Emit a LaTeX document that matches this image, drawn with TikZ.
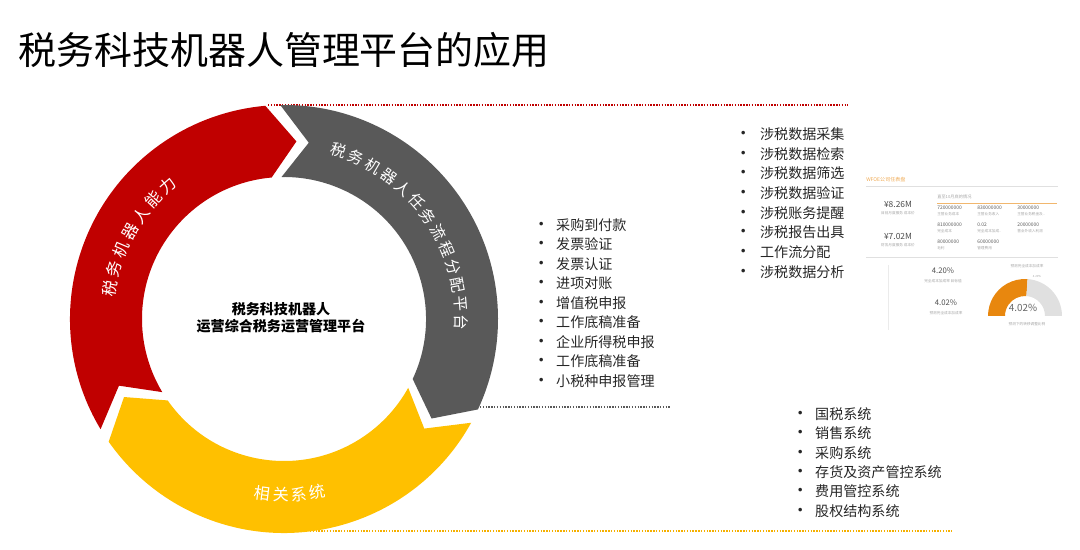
\documentclass[tikz,border=0pt]{standalone}
\usepackage{fontspec}
\setmainfont{Noto Sans CJK SC}
\usepackage{xcolor}
\usetikzlibrary{positioning}

\definecolor{ringred}{HTML}{C00000}
\definecolor{ringgray}{HTML}{595959}
\definecolor{ringyellow}{HTML}{FFC000}
\definecolor{dotyellow}{HTML}{F5B000}
\definecolor{dashorange}{HTML}{E8870E}
\definecolor{listtext}{HTML}{262626}

\newcommand{\fsz}[1]{\fontsize{#1}{#1}\selectfont}
\newcommand{\ringseg}[2]{%
  \fill[#1] ({#2}:214) arc[start angle={#2}, end angle={#2-116}, radius=214]
    -- ({#2-125}:178) -- ({#2-116}:142)
    arc[start angle={#2-116}, end angle={#2}, radius=142]
    -- ({#2-9}:178) -- cycle;}

\begin{document}
\begin{tikzpicture}[x=0.025cm, y=0.025cm,
    ringlbl/.style={text=white, font=\fsz{11.5}, inner sep=0pt},
    hub/.style={align=center, font=\bfseries\fontsize{10}{12}\selectfont, inner sep=0pt},
    item/.style={anchor=west, inner sep=0pt, text=listtext, font=\fsz{10},
      execute at begin node={\makebox[#1][l]{\makebox[0pt][c]{\fsz{12}•}}}},
    item/.default=10.6pt,
    dotline/.style={line width=1.3pt, dash pattern=on 1pt off 1pt},
    dbnum/.style={anchor=west, inner sep=0pt, text=black!65, font=\fsz{3.5}},
    dblbl/.style={anchor=west, inner sep=0pt, text=black!35, font=\fsz{2.6}},
    dbbig/.style={inner sep=0pt, text=black!70, font=\fsz{6}},
    dbcap/.style={inner sep=0pt, text=black!35, font=\fsz{2.6}},
    dbrule/.style={black!12, line width=0.4pt}
  ]
    \useasboundingbox (0,0) rectangle (1080,550);

    \node[anchor=west, font=\fsz{27}, inner sep=0pt] (title) at (18,500) {税务科技机器人管理平台的应用};

    \coordinate (redL) at (268,445);
    \coordinate (redR) at (848,445);
    \coordinate (grayL) at (480,143);
    \coordinate (grayR) at (670,143);
    \coordinate (ylwL) at (310,19);
    \coordinate (ylwR) at (952,19);
    \draw[dotline, ringred] (redL) -- (redR);
    \draw[dotline, ringgray] (grayL) -- (grayR);
    \draw[dotline, dotyellow] (ylwL) -- (ylwR);

    \begin{scope}[shift={(284,231)}]
      \ringseg{ringred}{211}
      \ringseg{ringgray}{91}
      \ringseg{ringyellow}{331}
      \node[hub] (hub) at (-3,1) {税务科技机器人\\运营综合税务运营管理平台};
      \foreach \ch [count=\i] in {税,务,机,器,人,能,力}{
        \pgfmathsetmacro{\ang}{170-6.5*(\i-1)}
        \node[ringlbl, rotate=\ang-90] (cap\i) at (\ang:177) {\ch};
      }
      \foreach \ch [count=\i] in {税,务,机,器,人,任,务,流,程,分,配,平,台}{
        \pgfmathsetmacro{\ang}{72-6.1*(\i-1)}
        \node[ringlbl, font=\fsz{11}, rotate=\ang-90] (task\i) at (\ang:177) {\ch};
      }
      \foreach \ch [count=\i] in {相,关,系,统}{
        \pgfmathsetmacro{\ang}{-97+6*(\i-1)}
        \node[ringlbl, rotate=\ang+90] (sys\i) at (\ang:176) {\ch};
      }
    \end{scope}

    \foreach \t [count=\i] in {采购到付款,发票验证,发票认证,进项对账,增值税申报,工作底稿准备,企业所得税申报,工作底稿准备,小税种申报管理}
      \node[item] (flow\i) at (541,{325-19.5*(\i-1)}) {\t};

    \foreach \t [count=\i] in {涉税数据采集,涉税数据检索,涉税数据筛选,涉税数据验证,涉税账务提醒,涉税报告出具,工作流分配,涉税数据分析}
      \node[item=12pt] (data\i) at (743,{416-19.7*(\i-1)}) {\t};

    \foreach \t [count=\i] in {国税系统,销售系统,采购系统,存货及资产管控系统,费用管控系统,股权结构系统}
      \node[item] (erp\i) at (800,{136-19.4*(\i-1)}) {\t};

    \node[anchor=west, inner sep=0pt, text=dashorange!70, font=\fsz{3.6}] (dbtitle) at (866,370) {WFOE公司任表盘};
    \draw[dbrule] (866,364) -- (1058,364);
    \node[dbbig] (cost1) at (898,346) {¥8.26M};
    \node[dbcap] (cost1l) at (898,337) {目前月度服务\ 成本价};
    \node[dbbig] (cost2) at (898,314) {¥7.02M};
    \node[dbcap] (cost2l) at (898,305) {财务月度服务\ 成本价};
    \node[dblbl, font=\fsz{3}] (gridhead) at (937,353) {直至10月底的情况};
    \draw[dashorange!60, line width=0.4pt] (937,347) -- (1057,347);
    \foreach \v/\l/\x/\y [count=\i] in {720000000/主营业务成本/937/342, 830000000/主营业务收入/977/342, 30000000/主营业务税金及../1017/342,
        810000000/完全成本/937/325, 0.02/完全成本加成../977/325, 20000000/营业外收入利润/1017/325,
        80000000/毛利/937/308, 60000000/管理费用/977/308}{
      \node[dbnum] (num\i) at (\x,\y) {\v};
      \node[dblbl] (numl\i) at (\x,{\y-6}) {\l};
    }
    \draw[dbrule] (866,293) -- (1058,293);
    \draw[black!8, line width=0.4pt] (888,285) -- (888,220);
    \node[dbbig, font=\fsz{5.5}] (rate1) at (943,279) {4.20\%};
    \node[dbcap] (rate1l) at (943,269) {完全成本加成率\ 目标值};
    \node[dbbig, font=\fsz{5.5}] (rate2) at (946,247) {4.02\%};
    \node[dbcap] (rate2l) at (946,237) {预测完全成本加成率};

    \begin{scope}[shift={(1025,234)}]
      \fill[dashorange] (180:37) arc[start angle=180, end angle=86, radius=37]
        -- (86:20) arc[start angle=86, end angle=180, radius=20] -- cycle;
      \fill[black!12] (86:37) arc[start angle=86, end angle=0, radius=37]
        -- (0:20) arc[start angle=0, end angle=86, radius=20] -- cycle;
      \node[inner sep=0pt, text=black!60, font=\fsz{7}] (gauge) at (-2,8) {4.02\%};
      \node[dbcap, font=\fsz{2}] (gaugetop) at (12,40) {4.20\%};
      \node[dbcap] (gaugehead) at (2,50) {预测完全成本加成率};
      \node[dbcap] (gaugefoot) at (2,-8) {预测下的转移调整比例};
    \end{scope}
  \end{tikzpicture}
\end{document}
